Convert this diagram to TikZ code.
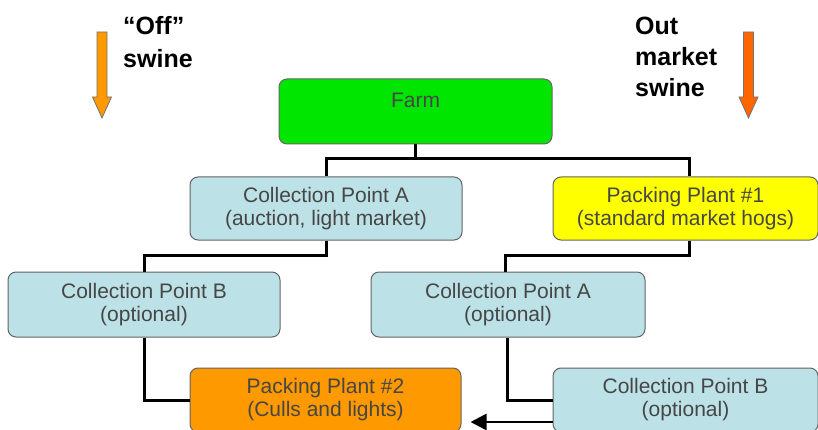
\documentclass[tikz,border=0pt]{standalone}
\usepackage{fontspec}
\setmainfont{Liberation Sans}
\usetikzlibrary{arrows.meta}
\definecolor{farmgreen}{RGB}{0,230,0}
\definecolor{cpblue}{RGB}{188,225,230}
\definecolor{ppyellow}{RGB}{255,255,0}
\definecolor{pporange}{RGB}{255,153,0}
\definecolor{arroworange}{RGB}{255,153,0}
\definecolor{arrowred}{RGB}{255,102,0}
\definecolor{boxtext}{RGB}{70,70,70}
\definecolor{boxedge}{RGB}{100,100,100}
\begin{document}
\begin{tikzpicture}[x=1pt,y=-1pt,
  box/.style={draw=boxedge, line width=1pt, rounded corners=8pt, align=center,
    text=boxtext, font=\fontsize{21}{23}\selectfont, inner sep=0pt},
  link/.style={line width=3pt, black},
  bigarrow/.style={draw=black!55, line width=0.8pt},
  label/.style={anchor=north west, inner sep=0pt, align=left, text=black}]
\useasboundingbox (0,0) rectangle (818,430);
\clip (0,0) rectangle (818,430);

\node[box, fill=farmgreen, minimum width=273pt, minimum height=65pt] (farm) at (415.5,111.5) {Farm\\\mbox{}};
\node[box, fill=cpblue, minimum width=272pt, minimum height=63pt] (cpa) at (326,208.5) {Collection Point A\\(auction, light market)};
\node[box, fill=ppyellow, minimum width=265pt, minimum height=63pt] (pp1) at (685.5,208.5) {Packing Plant \#1\\(standard market hogs)};
\node[box, fill=cpblue, minimum width=272pt, minimum height=65pt] (cpb) at (144,304.5) {Collection Point B\\(optional)};
\node[box, fill=cpblue, minimum width=274pt, minimum height=65pt] (cpa2) at (508,304.5) {Collection Point A\\(optional)};
\node[box, fill=pporange, minimum width=271pt, minimum height=64pt] (pp2) at (325.5,400) {Packing Plant \#2\\(Culls and lights)};
\node[box, fill=cpblue, minimum width=265pt, minimum height=64pt] (cpb2) at (685.5,400) {Collection Point B\\(optional)};

\draw[link] (farm.south) -- ++(0,14) -| (cpa.north);
\draw[link] (farm.south) -- ++(0,14) -| ([xshift=4pt]pp1.north);
\draw[link] (cpa.south) -- ++(0,15) -| (cpb.north);
\draw[link] ([xshift=4pt]pp1.south) -- ++(0,15) -| ([xshift=-3pt]cpa2.north);
\draw[link] (cpb.south) |- (pp2.west);
\draw[link] ([xshift=-1pt]cpa2.south) |- (cpb2.west);
\draw[line width=2.5pt, -{Triangle[length=16pt,width=16pt]}] ([yshift=-22pt]cpb2.west) -- ([xshift=9pt,yshift=-22pt]pp2.east);

\draw[bigarrow, fill=arroworange] (97,32) -- (107,32) -- (107,97) -- (111.5,97) -- (102,118) -- (92.5,97) -- (97,97) -- cycle;
\draw[bigarrow, fill=arrowred] (743.5,32) -- (753.5,32) -- (753.5,97) -- (758,97) -- (748.5,118) -- (739,97) -- (743.5,97) -- cycle;

\node[label, font=\fontsize{25}{33.5}\selectfont\bfseries] (off) at (123,16) {“Off”\\swine};
\node[label, font=\fontsize{25}{31}\selectfont\bfseries] (out) at (635,17) {Out\\market\\swine};
\end{tikzpicture}
\end{document}
